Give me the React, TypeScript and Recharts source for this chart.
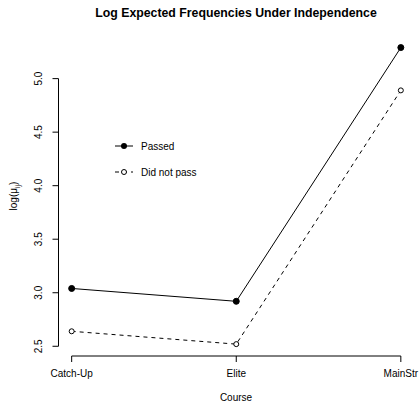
import React from 'react';
import { LineChart, Line, XAxis, YAxis, ReferenceLine } from 'recharts';

const courses = ['Catch-Up', 'Elite', 'MainStr'];
const passed = [3.04, 2.92, 5.29];
const didNotPass = [2.64, 2.52, 4.89];
const yTicks = [2.5, 3.0, 3.5, 4.0, 4.5, 5.0];
const xTicks = [1, 2, 3];

const FONT = '"Liberation Sans", Arial, Helvetica, sans-serif';

// R-style padding: 4% of the data range on each side
const allVals = [...passed, ...didNotPass];
const yMin = Math.min(...allVals);
const yMax = Math.max(...allVals);
const yPad = (yMax - yMin) * 0.04;
const yDomain = [yMin - yPad, yMax + yPad];
const xDomain = [1 - 0.08, 3 + 0.08];

const data = courses.map((c, i) => ({
  x: i + 1,
  course: c,
  passed: passed[i],
  notPass: didNotPass[i],
}));

function YTick({ x, y, payload }: { x?: number; y?: number; payload?: { value: number } }) {
  if (x == null || y == null || !payload) return null;
  const bx = x - 8;
  return (
    <text
      x={bx}
      y={y}
      transform={`rotate(-90, ${bx}, ${y})`}
      textAnchor="middle"
      fontSize={10}
      fontFamily={FONT}
      fill="#000"
    >
      {payload.value.toFixed(1)}
    </text>
  );
}

export default function App() {
  return (
    <div style={{ position: 'absolute', left: 0, top: 0, width: 420, height: 402, overflow: 'hidden', background: '#fff' }}>
      <LineChart
        width={420}
        height={402}
        data={data}
        margin={{ top: 35.7, right: 6, bottom: 0, left: 0 }}
      >
        <XAxis
          dataKey="x"
          type="number"
          domain={xDomain}
          ticks={xTicks}
          tickFormatter={(v: number) => courses[v - 1]}
          height={46}
          axisLine={false}
          tickLine={{ stroke: '#000' }}
          tickSize={6}
          tickMargin={8}
          interval={0}
          tick={{ fontSize: 10, fill: '#000', fontFamily: FONT }}
          allowDataOverflow
        />
        <YAxis
          type="number"
          domain={yDomain}
          ticks={yTicks}
          width={58.5}
          axisLine={false}
          tickLine={{ stroke: '#000' }}
          tickSize={6}
          tick={<YTick />}
          allowDataOverflow
        />
        <ReferenceLine
          segment={[{ x: xDomain[0], y: 2.5 }, { x: xDomain[0], y: 5.0 }]}
          stroke="#000"
          strokeWidth={1}
          ifOverflow="visible"
        />
        <ReferenceLine
          segment={[{ x: 1, y: yDomain[0] }, { x: 3, y: yDomain[0] }]}
          stroke="#000"
          strokeWidth={1}
          ifOverflow="visible"
        />
        <Line
          type="linear"
          dataKey="passed"
          stroke="#000"
          strokeWidth={1}
          dot={{ r: 3, fill: '#000', stroke: '#000', strokeWidth: 1 }}
          isAnimationActive={false}
        />
        <Line
          type="linear"
          dataKey="notPass"
          stroke="#000"
          strokeWidth={1}
          strokeDasharray="4 4"
          dot={{ r: 2.5, fill: '#fff', stroke: '#000', strokeWidth: 1, strokeDasharray: 'none' }}
          isAnimationActive={false}
        />
      </LineChart>

      <svg
        width={420}
        height={402}
        style={{ position: 'absolute', left: 0, top: 0, pointerEvents: 'none' }}
        fontFamily={FONT}
      >
        <text x={236} y={17.3} textAnchor="middle" fontSize={12.3} fontWeight="bold" fill="#000">
          Log Expected Frequencies Under Independence
        </text>

        {/* legend */}
        <line x1={115} x2={133} y1={146} y2={146} stroke="#000" strokeWidth={1} />
        <circle cx={124} cy={146} r={3} fill="#000" />
        <text x={141} y={149.6} fontSize={10} fill="#000">Passed</text>
        <line x1={115} x2={133} y1={172} y2={172} stroke="#000" strokeWidth={1} strokeDasharray="4 4" />
        <circle cx={124} cy={172} r={2.5} fill="#fff" stroke="#000" strokeWidth={1} />
        <text x={141} y={175.6} fontSize={10} fill="#000">Did not pass</text>

        {/* axis titles */}
        <text x={236} y={400.5} textAnchor="middle" fontSize={10} fill="#000">Course</text>
        <text
          x={17}
          y={196}
          transform="rotate(-90, 17, 196)"
          textAnchor="middle"
          fontSize={10}
          fill="#000"
        >
          log(μ<tspan fontSize={7} dy={2.5}>ij</tspan><tspan dy={-2.5}>)</tspan>
        </text>
      </svg>
    </div>
  );
}
